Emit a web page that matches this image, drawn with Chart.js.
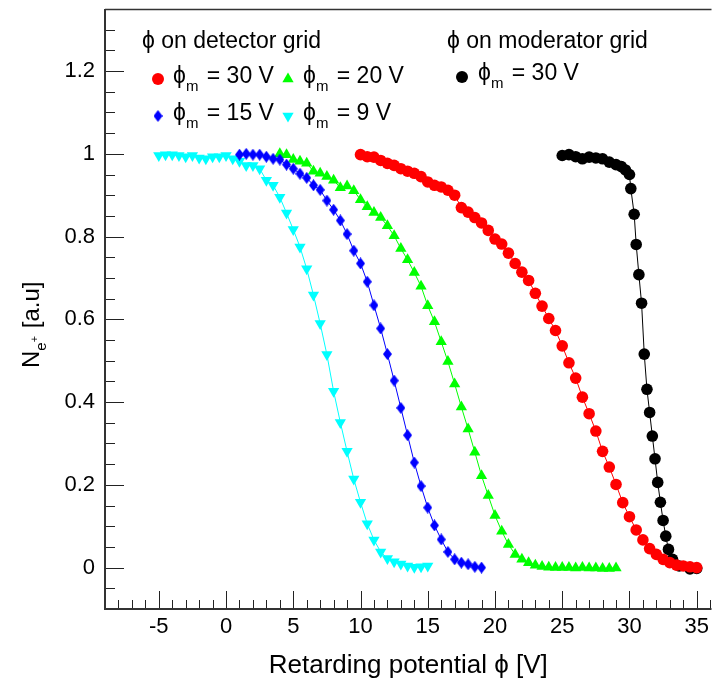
<!DOCTYPE html>
<html>
<head>
<meta charset="utf-8">
<script src="https://cdn.jsdelivr.net/npm/chart.js@4/dist/chart.umd.min.js"></script>
<style>
  html, body { margin: 0; padding: 0; background: #fff; }
  #wrap { width: 718px; height: 691px; }
</style>
</head>
<body>
<div id="wrap"><canvas id="retardChart" width="718" height="691"></canvas></div>
<script>
// tick labels
const xTicks = [-5, 0, 5, 10, 15, 20, 25, 30, 35];
const yTicks = [0, 0.2, 0.4, 0.6, 0.8, 1, 1.2];

// phi on detector grid, phi_m = 30 V (red)
const det30x = [10,10.5,11,11.5,12,12.5,13,13.5,14,14.5,15,15.5,16,16.5,17,17.5,18,18.5,19,19.5,20,20.5,21,21.5,22,22.5,23,23.5,24,24.5,25,25.5,26,26.5,27,27.5,28,28.5,29,29.5,30,30.5,31,31.5,32,32.5,33,33.5,34,34.5,35];
const det30y = [0.998,0.993,0.992,0.984,0.977,0.972,0.964,0.958,0.953,0.945,0.932,0.924,0.920,0.912,0.900,0.870,0.859,0.846,0.833,0.815,0.794,0.782,0.760,0.735,0.714,0.694,0.663,0.632,0.602,0.573,0.536,0.495,0.458,0.412,0.372,0.330,0.281,0.243,0.201,0.157,0.123,0.091,0.067,0.046,0.032,0.020,0.012,0.006,0.004,0.002,0.000];

// phi_m = 20 V (green)
const det20x = [4,4.5,5,5.5,6,6.5,7,7.5,8,8.5,9,9.5,10,10.5,11,11.5,12,12.5,13,13.5,14,14.5,15,15.5,16,16.5,17,17.5,18,18.5,19,19.5,20,20.5,21,21.5,22,22.5,23,23.5,24,24.5,25,25.5,26,26.5,27,27.5,28,28.5,29];
const det20y = [1.000,0.998,0.986,0.982,0.977,0.958,0.953,0.945,0.936,0.918,0.922,0.911,0.889,0.872,0.858,0.846,0.826,0.802,0.771,0.744,0.713,0.680,0.633,0.594,0.546,0.498,0.444,0.388,0.335,0.279,0.222,0.174,0.126,0.088,0.056,0.032,0.020,0.012,0.006,0.003,0.001,0.000,0.000,0.000,-0.001,0.000,-0.001,-0.001,-0.002,-0.002,-0.001];

// phi_m = 15 V (blue)
const det15x = [1,1.5,2,2.5,3,3.5,4,4.5,5,5.5,6,6.5,7,7.5,8,8.5,9,9.5,10,10.5,11,11.5,12,12.5,13,13.5,14,14.5,15,15.5,16,16.5,17,17.5,18,18.5,19];
const det15y = [0.998,1.000,0.998,0.998,0.993,0.988,0.986,0.974,0.964,0.952,0.942,0.924,0.913,0.887,0.865,0.839,0.806,0.766,0.735,0.691,0.634,0.578,0.516,0.452,0.386,0.320,0.254,0.197,0.145,0.102,0.068,0.038,0.020,0.012,0.008,0.002,0.000];

// phi_m = 9 V (cyan)
const det9x = [-5,-4.5,-4,-3.5,-3,-2.5,-2,-1.5,-1,-0.5,0,0.5,1,1.5,2,2.5,3,3.5,4,4.5,5,5.5,6,6.5,7,7.5,8,8.5,9,9.5,10,10.5,11,11.5,12,12.5,13,13.5,14,14.5,15];
const det9y = [0.996,0.998,0.998,0.996,0.993,0.996,0.990,0.988,0.993,0.993,0.996,0.988,0.982,0.972,0.972,0.964,0.936,0.924,0.895,0.857,0.817,0.775,0.722,0.659,0.590,0.515,0.426,0.351,0.281,0.214,0.158,0.106,0.067,0.038,0.022,0.014,0.009,0.004,0.001,0.002,0.004];

// phi on moderator grid, phi_m = 30 V (black)
const mod30x = [25,25.5,26,26.5,27,27.5,28,28.5,29,29.4,29.7,30,30.1,30.35,30.5,30.7,30.9,31.1,31.3,31.5,31.7,31.9,32.1,32.3,32.5,32.7,32.9,33.2,33.7,34.5,35];
const mod30y = [0.996,0.998,0.993,0.988,0.992,0.990,0.988,0.980,0.974,0.969,0.961,0.950,0.916,0.854,0.781,0.708,0.639,0.516,0.431,0.375,0.318,0.263,0.206,0.158,0.114,0.076,0.044,0.020,0.004,-0.003,-0.002];

const FONT = "'Liberation Sans', Arial, Helvetica, sans-serif";
const PHI = '\u03D5';

function pts(xs, ys) {
  return xs.map((x, i) => ({ x: x, y: ys[i] }));
}

// taller-than-wide diamond like the ROOT marker
function diamondMarker(color, w, h) {
  const c = document.createElement('canvas');
  c.width = w; c.height = h;
  const g = c.getContext('2d');
  g.fillStyle = color;
  g.beginPath();
  g.moveTo(w / 2, 0); g.lineTo(w, h / 2); g.lineTo(w / 2, h); g.lineTo(0, h / 2);
  g.closePath();
  g.fill();
  return c;
}
const blueDiamond = diamondMarker('#0000ff', 9, 12);

function series(label, data, color, style, radius, rotation) {
  return {
    label: label,
    data: data,
    borderColor: color,
    backgroundColor: color,
    borderWidth: 1,
    pointStyle: style,
    pointRadius: radius,
    pointRotation: rotation || 0,
    pointBorderWidth: 0,
    pointBackgroundColor: color,
    showLine: true,
    tension: 0
  };
}

// ticks drawn inward, ROOT style, plus the frame
const frameTicks = {
  id: 'frameTicks',
  afterDraw(chart) {
    const { ctx, chartArea: a, scales: { x, y } } = chart;
    ctx.save();
    ctx.strokeStyle = '#222';
    ctx.lineWidth = 1;
    ctx.beginPath();
    for (let v = -8; v <= 36; v++) {
      const px = Math.round(x.getPixelForValue(v)) + 0.5;
      const len = v % 5 === 0 ? 18 : 9;
      ctx.moveTo(px, a.bottom);
      ctx.lineTo(px, a.bottom - len);
    }
    for (let k = -1; k <= 26; k++) {
      const py = Math.round(y.getPixelForValue(k * 0.05)) + 0.5;
      const len = k % 4 === 0 ? 19 : 10;
      ctx.moveTo(a.left, py);
      ctx.lineTo(a.left + len, py);
    }
    ctx.stroke();

    ctx.strokeStyle = '#333';
    ctx.lineWidth = 2;
    ctx.beginPath();
    ctx.moveTo(a.left, a.top);
    ctx.lineTo(a.left, a.bottom);
    ctx.lineTo(a.right, a.bottom);
    ctx.stroke();
    ctx.lineWidth = 1.5;
    ctx.beginPath();
    ctx.moveTo(a.left, a.top + 0.5);
    ctx.lineTo(a.right, a.top + 0.5);
    ctx.stroke();
    ctx.restore();
  }
};

// text with a subscript "m" after phi
function phiM(ctx, x, y, rest) {
  ctx.font = '23px ' + FONT;
  ctx.fillText(PHI, x, y);
  let cx = x + ctx.measureText(PHI).width;
  ctx.font = '15px ' + FONT;
  ctx.fillText('m', cx, y + 8);
  cx += ctx.measureText('m').width + 2;
  ctx.font = '23px ' + FONT;
  ctx.fillText(rest, cx, y);
}

const legendText = {
  id: 'legendText',
  afterDraw(chart) {
    const ctx = chart.ctx;
    const dp = Chart.helpers.drawPoint;
    ctx.save();
    ctx.fillStyle = '#000';
    ctx.textBaseline = 'alphabetic';
    ctx.textAlign = 'left';
    ctx.font = '23px ' + FONT;
    ctx.fillText(PHI + ' on detector grid', 142, 48);
    ctx.fillText(PHI + ' on moderator grid', 447, 48);

    phiM(ctx, 173, 83, ' = 30 V');
    phiM(ctx, 303, 83, ' = 20 V');
    phiM(ctx, 173, 120, ' = 15 V');
    phiM(ctx, 303, 120, ' = 9 V');
    phiM(ctx, 478, 80, ' = 30 V');

    ctx.fillStyle = '#ff0000';
    dp(ctx, { pointStyle: 'circle', radius: 6, borderWidth: 0 }, 158, 79);
    ctx.fillStyle = '#00ff00';
    dp(ctx, { pointStyle: 'triangle', radius: 6.5, borderWidth: 0 }, 288, 79);
    ctx.fillStyle = '#00ffff';
    dp(ctx, { pointStyle: 'triangle', radius: 6.5, rotation: 180, borderWidth: 0 }, 288, 116);
    ctx.fillStyle = '#000000';
    dp(ctx, { pointStyle: 'circle', radius: 6, borderWidth: 0 }, 462, 77);
    ctx.drawImage(blueDiamond, 158 - 4.5, 116 - 6);

    // y axis title N_{e+} [a.u]
    ctx.translate(39, 368);
    ctx.rotate(-Math.PI / 2);
    ctx.fillStyle = '#000';
    ctx.font = '24px ' + FONT;
    ctx.fillText('N', 0, 0);
    let cx = ctx.measureText('N').width;
    ctx.font = '15px ' + FONT;
    ctx.fillText('e', cx, 7);
    const ew = ctx.measureText('e').width;
    ctx.font = '11px ' + FONT;
    ctx.fillText('+', cx + ew, -1);
    cx += ew + ctx.measureText('+').width + 1;
    ctx.font = '24px ' + FONT;
    ctx.fillText(' [a.u]', cx, 0);
    ctx.restore();
  }
};

const ctx = document.getElementById('retardChart').getContext('2d');
const retardChart = new Chart(ctx, {
  type: 'scatter',
  data: {
    datasets: [
      series('phi_m = 30 V', pts(det30x, det30y), '#ff0000', 'circle', 5.8),
      series('phi_m = 15 V', pts(det15x, det15y), '#0000ff', blueDiamond, 6),
      series('phi_m = 20 V', pts(det20x, det20y), '#00ff00', 'triangle', 6.5),
      series('phi_m = 9 V', pts(det9x, det9y), '#00ffff', 'triangle', 6.5, 180),
      series('moderator phi_m = 30 V', pts(mod30x, mod30y), '#000000', 'circle', 5.8)
    ]
  },
  options: {
    responsive: false,
    animation: false,
    layout: { padding: { top: 9, right: 0, left: 0, bottom: 0 } },
    plugins: {
      legend: { display: false },
      tooltip: { enabled: false }
    },
    scales: {
      x: {
        type: 'linear',
        min: -9,
        max: 36.1,
        afterBuildTicks: (s) => { s.ticks = xTicks.map(v => ({ value: v })); },
        afterFit: (s) => { s.height = 82; s.paddingLeft = 0; s.paddingRight = 0; },
        grid: { display: false, drawTicks: false },
        border: { display: false },
        ticks: {
          color: '#000',
          font: { family: FONT, size: 22 },
          padding: 5,
          maxRotation: 0,
          autoSkip: false
        },
        title: {
          display: true,
          text: 'Retarding potential ' + PHI + ' [V]',
          color: '#000',
          font: { family: FONT, size: 26 },
          padding: { top: 0, bottom: 10 }
        }
      },
      y: {
        type: 'linear',
        min: -0.1,
        max: 1.35,
        afterBuildTicks: (s) => { s.ticks = yTicks.map(v => ({ value: v })); },
        afterFit: (s) => { s.width = 105; s.paddingTop = 0; s.paddingBottom = 0; },
        grid: { display: false, drawTicks: false },
        border: { display: false },
        ticks: {
          color: '#000',
          font: { family: FONT, size: 22 },
          padding: 10,
          callback: (v) => String(Math.round(v * 10) / 10)
        }
      }
    }
  },
  plugins: [frameTicks, legendText]
});
</script>
</body>
</html>
